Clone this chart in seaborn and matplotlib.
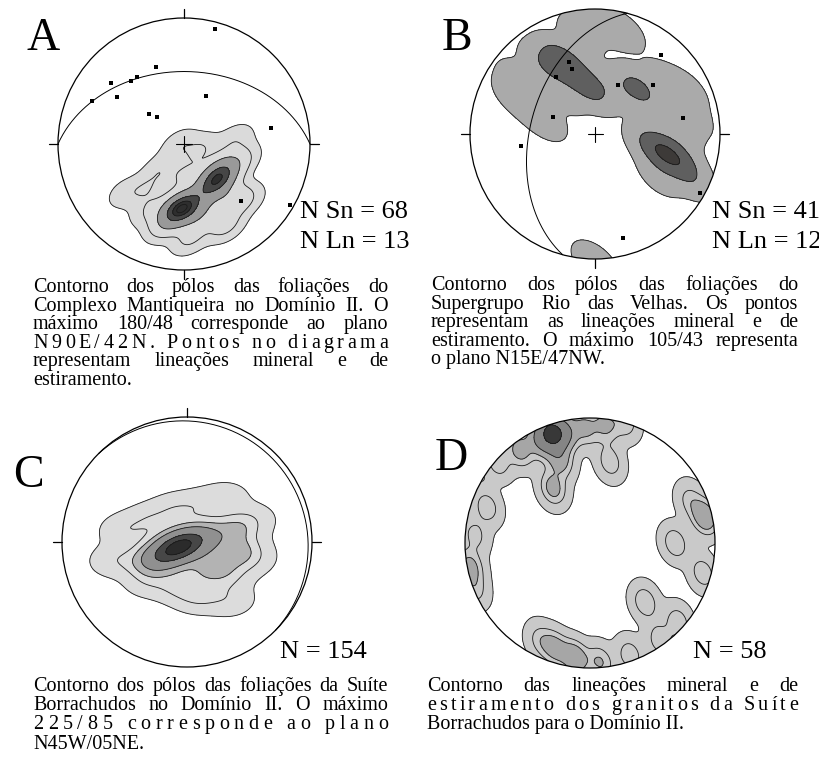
import numpy as np
import pandas as pd
import matplotlib
matplotlib.use("Agg")
import matplotlib.pyplot as plt
import seaborn as sns
from matplotlib.patches import Circle

sns.set_theme(style="white")
plt.rcParams['font.family'] = ['Liberation Serif', 'DejaVu Serif']

W, H = 820, 763
fig = plt.figure(figsize=(W / 100, H / 100), dpi=100)
fig.patch.set_facecolor('white')

# ---- net A: Complexo Mantiqueira (net coords, east / north, unit radius)
a_pole_x = [-0.024, -0.063, 0.048, 0.262, 0.206, 0.302, 0.365, 0.127, -0.151, 0.048, 0.325, 0.444, 0.405, 0.127, -0.032, -0.19, -0.31, -0.468, -0.27, 0.484, 0.0]
a_pole_y = [-0.508, -0.54, -0.484, -0.286, -0.349, -0.206, -0.444, -0.563, -0.643, -0.746, -0.643, -0.127, 0.032, -0.048, -0.008, -0.206, -0.365, -0.389, -0.524, -0.444, -0.25]
a_pole_w = [8, 3, 3, 7, 3, 4, 2, 2, 1.5, 1.2, 1.5, 1.2, 0.8, 1.0, 0.8, 0.8, 0.8, 0.6, 1, 1, 1]
a_lin_x = [0.246, -0.222, -0.579, -0.421, -0.373, -0.532, -0.730, 0.175, -0.278, -0.214, 0.690, 0.452, 0.841]
a_lin_y = [0.913, 0.611, 0.484, 0.500, 0.532, 0.373, 0.341, 0.381, 0.238, 0.214, 0.127, -0.452, -0.484]
a_plane = (0, 42)        # dip direction, dip  (N90E/42N)

# ---- net B: Supergrupo Rio das Velhas
b_pole_x = [-0.04, 0.08, 0.24, -0.12, -0.28, -0.18, -0.40, -0.60, -0.64, -0.48, -0.40, -0.24, -0.04, 0.16, 0.344, 0.56, 0.72, 0.76, 0.68, 0.56, 0.68, 0.44, 0.76, 0.52, 0.00]
b_pole_y = [0.96, 0.87, 0.82, 0.79, 0.59, 0.51, 0.55, 0.43, 0.31, 0.19, 0.11, 0.31, 0.37, 0.37, 0.36, 0.42, 0.35, 0.15, 0.03, -0.152, -0.21, -0.09, -0.35, -0.33, -1.03]
b_pole_w = [1, 1, 0.7, 1, 4, 3, 2, 1, 1, 1, 0.8, 0.8, 3.5, 1, 3.5, 1, 1, 1, 1, 6, 3, 2, 1.5, 1, 1.2]
b_lin_x = [0.528, -0.208, -0.184, -0.312, 0.184, 0.464, -0.336, 0.704, -0.592, 0.840, 0.224]
b_lin_y = [0.632, 0.576, 0.520, 0.456, 0.392, 0.392, 0.136, 0.128, -0.096, -0.472, -0.832]
b_plane = (285, 47)      # N15E/47NW

# ---- net C: Suite Borrachudos, foliations
c_pole_x = [-0.056, -0.176, 0.064, -0.296, 0.184, 0.384, 0.424, 0.304, 0.104, -0.056, -0.296, -0.576, -0.496, -0.296, -0.096, 0.104, 0.304, 0.504, 0.504, 0.344, 0.15, 0.27]
c_pole_y = [-0.032, -0.104, 0.032, -0.16, 0.056, 0.096, -0.064, -0.264, -0.424, -0.344, -0.304, -0.144, 0.096, 0.176, 0.256, 0.296, 0.352, 0.176, -0.144, -0.464, -0.2, -0.12]
c_pole_w = [6, 4, 3, 2, 1.5, 1.5, 1.5, 1.2, 1.2, 1.2, 0.8, 0.8, 0.8, 0.8, 0.8, 0.6, 0.6, 0.7, 0.7, 0.7, 1.2, 1.0]
c_plane = (45, 5)        # N45W/05NE

# ---- net D: Suite Borrachudos, lineations
d_pole_x = [-0.304, -0.40, -0.20, -0.56, -0.736, -0.04, 0.12, 0.28, -0.24, -0.296, 0.16, -0.824, -0.92, -0.96, -0.92, 0.92, 0.80, 0.904, 0.68, 0.44, -0.28, -0.12, 0.08, 0.32, 0.56, 0.704, -0.40]
d_pole_y = [0.88, 0.824, 0.888, 0.744, 0.648, 0.92, 0.944, 0.968, 0.664, 0.44, 0.648, 0.288, 0.064, -0.192, -0.376, 0.208, 0.344, -0.24, 0.00, -0.472, -0.84, -0.92, -0.952, -0.896, -0.776, -0.632, -0.776]
d_pole_w = [5, 2, 2, 1.5, 1.0, 1.3, 1.3, 1.0, 1.5, 1.5, 1, 1, 0.8, 1.5, 0.8, 2, 0.8, 1, 1.1, 1.1, 1.5, 2, 1.2, 1, 1, 1, 0.8]

caption_a = [("Contorno dos pólos das foliações do", "words"),
             ("Complexo Mantiqueira no Domínio II. O", "words"),
             ("máximo 180/48 corresponde ao plano", "words"),
             ("N90E/42N. Pontos no diagrama", "chars"),
             ("representam lineações mineral e de", "words"),
             ("estiramento.", "left")]
caption_b = [("Contorno dos pólos das foliações do", "words"),
             ("Supergrupo Rio das Velhas. Os pontos", "words"),
             ("representam as lineações mineral e de", "words"),
             ("estiramento. O máximo 105/43 representa", "words"),
             ("o plano N15E/47NW.", "left")]
caption_c = [("Contorno dos pólos das foliações  da Suíte", "words"),
             ("Borrachudos no Domínio II. O máximo", "words"),
             ("225/85 corresponde ao plano", "chars"),
             ("N45W/05NE.", "left")]
caption_d = [("Contorno das lineações mineral e de", "words"),
             ("estiramento dos granitos da Suíte", "chars"),
             ("Borrachudos para o Domínio II.", "left")]


def net_axes(cx, cy, R, L=1.12):
    ax = fig.add_axes([(cx - L * R) / W, 1 - (cy + L * R) / H, 2 * L * R / W, 2 * L * R / H])
    ax.set_xlim(-L, L)
    ax.set_ylim(-L, L)
    ax.axis('off')
    return ax


def great_circle(dipdir, dip):
    dd, dp = np.radians(dipdir), np.radians(dip)
    s = np.array([np.sin(dd - np.pi / 2), np.cos(dd - np.pi / 2), 0.0])
    d = np.array([np.sin(dd) * np.cos(dp), np.cos(dd) * np.cos(dp), -np.sin(dp)])
    t = np.linspace(0, np.pi, 181)
    v = np.outer(np.cos(t), s) + np.outer(np.sin(t), d)
    e, n, u = v.T
    h = np.maximum(np.hypot(e, n), 1e-9)
    r = np.sqrt(1 - np.abs(u))
    return r * e / h, r * n / h


def density(ax, xs, ys, ws, levels, colors, bw):
    df = pd.DataFrame({"ex": xs, "no": ys, "w": ws})
    kw = dict(data=df, x="ex", y="no", weights="w", bw_method=bw, gridsize=240, cut=5, ax=ax)
    sns.kdeplot(fill=True, levels=levels, cmap=matplotlib.colors.ListedColormap(colors), **kw)
    sns.kdeplot(fill=False, levels=levels[:-1], color='#1a1a1a', linewidths=0.6, **kw)
    clip = Circle((0, 0), 1, transform=ax.transData)
    for coll in ax.collections:
        coll.set_clip_path(clip)


def frame(ax, ticks=(), cross=False):
    ax.add_patch(Circle((0, 0), 1, fill=False, lw=0.9, ec='black', zorder=5))
    for t in ticks:
        a = np.radians(t)
        ax.plot([np.sin(a), 1.07 * np.sin(a)], [np.cos(a), 1.07 * np.cos(a)], color='black', lw=0.9)
    if cross:
        ax.plot([-0.06, 0.06], [0, 0], color='black', lw=0.8, zorder=6)
        ax.plot([0, 0], [-0.06, 0.06], color='black', lw=0.8, zorder=6)


def plane(ax, p):
    gx, gy = great_circle(*p)
    ax.plot(gx, gy, color='black', lw=0.7, zorder=4)


def points(ax, xs, ys):
    sns.scatterplot(x=xs, y=ys, marker='s', s=11, color='black', linewidth=0, ax=ax, zorder=7)


# A
ax = net_axes(184, 144, 126)
density(ax, a_pole_x, a_pole_y, a_pole_w, [0.02, 0.15, 0.4, 0.7, 0.9, 0.975, 1.0],
        ['#dadada', '#bcbcbc', '#999999', '#6f6f6f', '#464646', '#2e2e2e'], 0.45)
plane(ax, a_plane)
frame(ax, (0, 90, 180, 270), cross=True)
points(ax, a_lin_x, a_lin_y)

# B
ax = net_axes(595, 134, 125)
density(ax, b_pole_x, b_pole_y, b_pole_w, [0.03, 0.55, 0.94, 1.0],
        ['#aaaaaa', '#5f5f5f', '#3d3a38'], 0.24)
plane(ax, b_plane)
frame(ax, (90, 180, 270), cross=True)
points(ax, b_lin_x, b_lin_y)

# C
ax = net_axes(187, 542, 125)
density(ax, c_pole_x, c_pole_y, c_pole_w, [0.02, 0.18, 0.38, 0.6, 0.8, 0.93, 1.0],
        ['#dcdcdc', '#b3b3b3', '#909090', '#6a6a6a', '#474747', '#2b2b2b'], 0.45)
plane(ax, c_plane)
frame(ax, (0, 90, 270))

# D
ax = net_axes(590, 543, 125)
density(ax, d_pole_x, d_pole_y, d_pole_w, [0.03, 0.28, 0.58, 0.82, 0.94, 1.0],
        ['#c9c9c9', '#a6a6a6', '#858585', '#5c5c5c', '#383838'], 0.13)
frame(ax)

# ---- texts
renderer = fig.canvas.get_renderer()


def put(x, y, s, size):
    return fig.text(x / W, 1 - y / H, s, fontsize=size, va='baseline', ha='left', color='black')


def text_width(s, size):
    t = fig.text(0, 0, s, fontsize=size)
    w = t.get_window_extent(renderer).width
    t.remove()
    return w


def caption(lines, x0, x1, y0, step, size=14.5):
    for i, (line, mode) in enumerate(lines):
        y = y0 + i * step
        if mode == 'left':
            put(x0, y, line, size)
            continue
        toks = line.split() if mode == 'words' else list(line)
        sp = 0.25 * size * 100 / 72
        widths = [sp if c == ' ' else text_width(c, size) for c in toks]
        gap = (x1 - x0 - sum(widths)) / (len(toks) - 1)
        x = x0
        for tok, wd in zip(toks, widths):
            if tok != ' ':
                put(x, y, tok, size)
            x += wd + gap


caption(caption_a, 33, 388, 292, 18.6)
caption(caption_b, 431, 798, 290, 18.6)
caption(caption_c, 33, 388, 691, 19.2)
caption(caption_d, 427, 798, 691, 19.2)

put(300, 218, "N Sn = 68", 19)
put(300, 248, "N Ln = 13", 19)
put(712, 218, "N Sn = 41", 19)
put(712, 248, "N Ln = 12", 19)
put(280, 658, "N = 154", 19)
put(693, 658, "N = 58", 19)

put(27, 50, "A", 33)
put(442, 50, "B", 33)
put(13, 487, "C", 33)
put(435, 470, "D", 33)

fig.savefig("out.png", dpi=100, facecolor='white')
